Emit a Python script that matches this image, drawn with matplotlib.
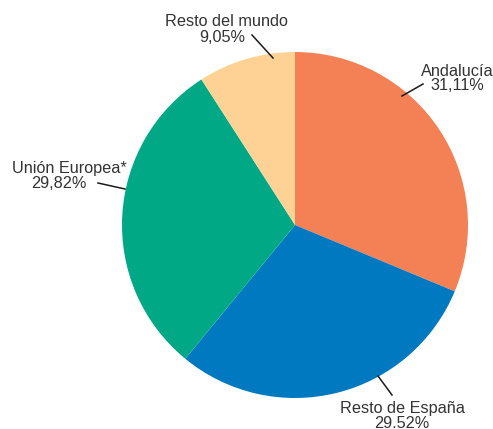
import matplotlib.pyplot as plt

labels = ["Andalucía", "Resto de España", "Unión Europea*", "Resto del mundo"]
shares = [31.11, 29.52, 29.82, 9.05]
share_text = ["31,11%", "29.52%", "29,82%", "9,05%"]
colors = ["#F48155", "#0079C1", "#00A886", "#FDD294"]

W, H = 493, 429
cx, cy, r = 295, 225, 173


def to_data(px, py):
    return (px - cx) / r, (cy - py) / r


fig = plt.figure(figsize=(W / 100, H / 100), dpi=100)
ax = fig.add_axes([(cx - r) / W, (H - cy - r) / H, 2 * r / W, 2 * r / H])
ax.pie(shares, colors=colors, startangle=90, counterclock=False,
       wedgeprops=dict(linewidth=0))
ax.set_xlim(-1, 1)
ax.set_ylim(-1, 1)
ax.set_aspect("equal")
ax.axis("off")

# label layout: name center, share center, leader line start and end (px)
layout = [
    ((457, 71), (457, 86), (423, 84), (402, 96)),
    ((402, 408), (402, 423), (392, 395), (378, 376)),
    ((69, 168), (59, 183), (98, 183), (125, 189)),
    ((226, 21), (222, 37), (252, 35), (273, 58)),
]

for name, txt, (npos, spos, p0, p1) in zip(labels, share_text, layout):
    for s, pos in ((name, npos), (txt, spos)):
        tx, ty = to_data(*pos)
        ax.text(tx, ty, s, ha="center", va="center", fontsize=11.7,
                family="Liberation Sans", color="#333333")
    x0, y0 = to_data(*p0)
    x1, y1 = to_data(*p1)
    ax.plot([x0, x1], [y0, y1], color="#1a1a1a", lw=1.1, clip_on=False)

fig.savefig("out.png", dpi=100)
